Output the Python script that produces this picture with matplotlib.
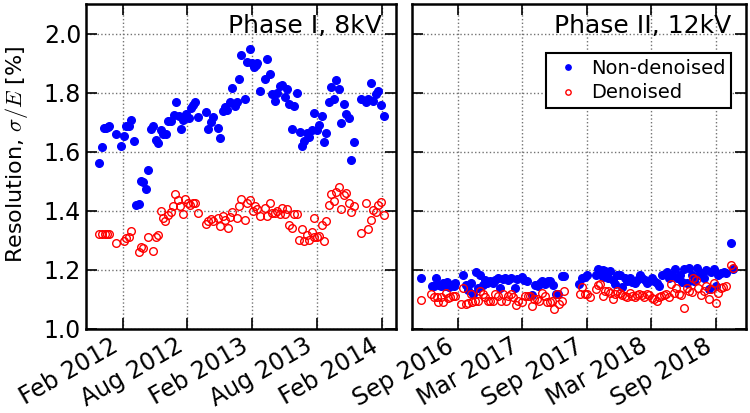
import matplotlib
matplotlib.use("Agg")
import matplotlib.pyplot as plt
import matplotlib.dates as mdates
import matplotlib.ticker as mticker
import pandas as pd

# Phase I (8kV): days since 2012-02-01, resolution in %
p1_start = "2012-02-01"
p1_blue_days = [-66, -59, -52, -47, -42, -37, -18, -4, 4, 9, 18, 24, 32, 39, 45, 52, 58, 66, 72,
                81, 87, 94, 99, 108, 114, 122, 129, 136, 144, 150, 158, 164, 171, 178, 186, 192,
                199, 205, 213, 234, 240, 248, 254, 268, 275, 282, 289, 295, 303, 309, 318, 324,
                329, 334, 345, 351, 359, 365, 372, 375, 378, 387, 401, 407, 415, 421, 429, 435,
                443, 450, 457, 464, 470, 478, 484, 491, 499, 506, 512, 520, 526, 533, 540, 547,
                555, 561, 568, 575, 582, 589, 596, 603, 610, 617, 624, 631, 638, 645, 652, 673,
                686, 693, 700, 707, 714, 720, 728, 736]
p1_blue = [1.561, 1.615, 1.680, 1.680, 1.683, 1.687, 1.659, 1.620, 1.652, 1.688, 1.686, 1.706,
           1.635, 1.419, 1.424, 1.501, 1.496, 1.474, 1.538, 1.677, 1.687, 1.641, 1.630, 1.675,
           1.659, 1.659, 1.705, 1.705, 1.725, 1.770, 1.722, 1.678, 1.708, 1.729, 1.714, 1.748,
           1.758, 1.767, 1.719, 1.733, 1.676, 1.699, 1.719, 1.682, 1.645, 1.739, 1.750, 1.742,
           1.770, 1.817, 1.755, 1.770, 1.845, 1.928, 1.780, 1.905, 1.947, 1.899, 1.886, 1.893,
           1.899, 1.804, 1.847, 1.913, 1.862, 1.795, 1.773, 1.799, 1.824, 1.827, 1.786, 1.812,
           1.763, 1.678, 1.754, 1.798, 1.666, 1.621, 1.637, 1.664, 1.649, 1.672, 1.730, 1.672,
           1.691, 1.722, 1.634, 1.664, 1.770, 1.818, 1.778, 1.843, 1.811, 1.698, 1.763, 1.727,
           1.714, 1.571, 1.632, 1.779, 1.767, 1.777, 1.832, 1.772, 1.797, 1.805, 1.757, 1.722]
p1_red_days = [-67, -57, -50, -43, -38, -18, 3, 9, 17, 24, 46, 53, 59, 72, 87, 94, 101, 108, 114,
               121, 129, 136, 143, 149, 157, 163, 171, 177, 185, 191, 199, 205, 213, 234, 240,
               248, 254, 268, 275, 282, 289, 296, 303, 309, 324, 329, 334, 345, 351, 359, 367,
               374, 379, 387, 401, 408, 415, 422, 429, 435, 443, 450, 457, 464, 470, 478, 484,
               491, 498, 506, 512, 520, 526, 533, 540, 540, 547, 555, 561, 568, 575, 582, 589,
               596, 603, 610, 617, 624, 631, 638, 645, 652, 673, 686, 693, 700, 707, 714, 720,
               728, 736]
p1_red = [1.321, 1.321, 1.321, 1.321, 1.321, 1.292, 1.299, 1.309, 1.313, 1.333, 1.262, 1.279,
          1.274, 1.312, 1.264, 1.312, 1.319, 1.400, 1.376, 1.364, 1.385, 1.395, 1.416, 1.456,
          1.437, 1.416, 1.390, 1.440, 1.425, 1.419, 1.428, 1.425, 1.394, 1.356, 1.366, 1.373,
          1.366, 1.375, 1.349, 1.382, 1.370, 1.343, 1.378, 1.395, 1.374, 1.417, 1.439, 1.368,
          1.428, 1.437, 1.399, 1.416, 1.405, 1.382, 1.409, 1.384, 1.425, 1.394, 1.394, 1.399,
          1.389, 1.409, 1.389, 1.405, 1.353, 1.342, 1.390, 1.390, 1.301, 1.340, 1.297, 1.319,
          1.301, 1.329, 1.313, 1.375, 1.310, 1.315, 1.353, 1.297, 1.364, 1.420, 1.458, 1.432,
          1.463, 1.482, 1.405, 1.454, 1.462, 1.428, 1.396, 1.416, 1.326, 1.426, 1.340, 1.368,
          1.402, 1.396, 1.419, 1.431, 1.386]

# Phase II (12kV): days since 2016-09-01
p2_start = "2016-09-01"
p2_blue_days = [-105, -75, -69, -63, -55, -48, -42, -37, -31, -25, -20, -12, -8, 14, 21, 27, 35,
                42, 50, 57, 63, 71, 77, 82, 91, 98, 104, 112, 119, 127, 134, 142, 149, 160, 166,
                180, 187, 195, 209, 218, 225, 232, 238, 246, 253, 261, 268, 276, 282, 294, 301,
                342, 351, 358, 366, 389, 396, 403, 409, 410, 417, 423, 424, 431, 438, 444, 451,
                458, 465, 471, 479, 486, 492, 500, 506, 514, 520, 528, 534, 541, 548, 554, 562,
                568, 577, 590, 598, 605, 613, 619, 627, 633, 640, 647, 654, 661, 667, 675, 681,
                688, 695, 702, 709, 716, 723, 730, 737, 745, 752, 758, 773, 779]
p2_blue = [1.173, 1.144, 1.144, 1.173, 1.150, 1.144, 1.156, 1.144, 1.158, 1.141, 1.150, 1.144,
           1.156, 1.184, 1.149, 1.133, 1.155, 1.117, 1.193, 1.139, 1.184, 1.150, 1.167, 1.156,
           1.162, 1.155, 1.166, 1.172, 1.139, 1.169, 1.173, 1.167, 1.173, 1.139, 1.170, 1.175,
           1.167, 1.164, 1.115, 1.148, 1.144, 1.156, 1.162, 1.153, 1.162, 1.162, 1.150, 1.117,
           1.119, 1.179, 1.181, 1.153, 1.173, 1.177, 1.184, 1.182, 1.204, 1.195, 1.175, 1.198,
           1.195, 1.173, 1.193, 1.195, 1.167, 1.153, 1.184, 1.184, 1.141, 1.171, 1.164, 1.173,
           1.159, 1.156, 1.167, 1.182, 1.173, 1.167, 1.156, 1.162, 1.173, 1.162, 1.155, 1.144,
           1.182, 1.193, 1.171, 1.182, 1.202, 1.173, 1.182, 1.159, 1.202, 1.157, 1.207, 1.184,
           1.162, 1.208, 1.184, 1.188, 1.171, 1.198, 1.137, 1.192, 1.204, 1.144, 1.184, 1.188,
           1.193, 1.188, 1.291, 1.204]
p2_red_days = [-105, -76, -69, -61, -56, -48, -42, -35, -28, -22, -14, -8, 7, 14, 21, 27, 35, 40,
               48, 57, 63, 71, 77, 84, 91, 98, 105, 112, 120, 127, 135, 142, 150, 155, 163, 169,
               182, 189, 197, 202, 210, 216, 223, 230, 238, 246, 251, 259, 266, 272, 280, 286,
               294, 300, 344, 351, 358, 366, 374, 389, 396, 403, 410, 417, 424, 431, 438, 443,
               451, 458, 465, 471, 479, 486, 492, 500, 506, 513, 520, 527, 534, 541, 548, 554,
               562, 568, 575, 583, 589, 597, 603, 611, 618, 626, 632, 639, 647, 653, 661, 666,
               673, 680, 688, 696, 702, 709, 715, 723, 730, 737, 744, 751, 759, 773, 779]
p2_red = [1.099, 1.117, 1.108, 1.108, 1.092, 1.108, 1.092, 1.122, 1.105, 1.108, 1.111, 1.113,
          1.085, 1.139, 1.085, 1.087, 1.119, 1.092, 1.094, 1.094, 1.130, 1.117, 1.108, 1.096,
          1.096, 1.096, 1.120, 1.111, 1.096, 1.120, 1.096, 1.113, 1.120, 1.108, 1.080, 1.094,
          1.092, 1.113, 1.113, 1.112, 1.078, 1.100, 1.102, 1.094, 1.122, 1.111, 1.092, 1.092,
          1.096, 1.068, 1.117, 1.083, 1.096, 1.127, 1.120, 1.141, 1.119, 1.117, 1.108, 1.137,
          1.150, 1.153, 1.113, 1.130, 1.128, 1.122, 1.103, 1.119, 1.130, 1.122, 1.114, 1.113,
          1.108, 1.122, 1.112, 1.108, 1.114, 1.117, 1.114, 1.108, 1.119, 1.114, 1.105, 1.103,
          1.094, 1.108, 1.113, 1.115, 1.119, 1.108, 1.153, 1.122, 1.139, 1.117, 1.114, 1.071,
          1.139, 1.130, 1.126, 1.173, 1.167, 1.139, 1.114, 1.130, 1.145, 1.103, 1.137, 1.156,
          1.087, 1.122, 1.139, 1.141, 1.147, 1.218, 1.207]


def to_dates(start, days):
    return pd.Timestamp(start) + pd.to_timedelta(days, unit="D")


plt.rcParams["mathtext.fontset"] = "cm"
plt.rcParams["font.family"] = "DejaVu Sans"

fig = plt.figure(figsize=(7.5, 4.13), dpi=100)
ax1 = fig.add_axes([0.1147, 0.2034, 0.4133, 0.7869])
ax2 = fig.add_axes([0.5487, 0.2034, 0.4460, 0.7869])

panels = [
    (ax1, p1_start, p1_blue_days, p1_blue, p1_red_days, p1_red, "Phase I, 8kV",
     ("2011-10-21", "2014-03-13"), (2, 8)),
    (ax2, p2_start, p2_blue_days, p2_blue, p2_red_days, p2_red, "Phase II, 12kV",
     ("2016-04-22", "2018-11-25"), (3, 9)),
]

for ax, start, bd, bv, rd, rv, title, xlim, months in panels:
    ax.plot(to_dates(start, bd), bv, "o", color="blue", mec="blue", ms=5.5,
            label="Non-denoised")
    ax.plot(to_dates(start, rd), rv, "o", mfc="none", mec="red", ms=5.5, mew=1.0,
            label="Denoised")
    ax.set_xlim(pd.Timestamp(xlim[0]), pd.Timestamp(xlim[1]))
    ax.set_ylim(1.0, 2.1)
    ax.set_yticks([1.0, 1.2, 1.4, 1.6, 1.8, 2.0])
    ax.xaxis.set_major_locator(mdates.MonthLocator(bymonth=months))
    ax.xaxis.set_major_formatter(mdates.DateFormatter("%b %Y"))
    ax.xaxis.set_minor_locator(mticker.NullLocator())
    ax.yaxis.set_minor_locator(mticker.NullLocator())
    ax.grid(True, color="0.45", linestyle=":", linewidth=1.0)
    ax.tick_params(direction="in", length=8, width=1.2, top=True, right=True,
                   labelsize=17)
    for lbl in ax.get_xticklabels():
        lbl.set_rotation(30)
        lbl.set_ha("right")
    for sp in ax.spines.values():
        sp.set_linewidth(1.8)
    ax.text(0.955, 0.97, title, transform=ax.transAxes, ha="right", va="top",
            fontsize=18)

ax1.set_ylabel(r"Resolution, $\sigma/E$ [%]", fontsize=16)
ax1.yaxis.set_label_coords(-0.18, 0.538)
ax2.tick_params(labelleft=False)

leg = ax2.legend(loc="upper right", bbox_to_anchor=(0.985, 0.88), numpoints=1,
                 markerscale=0.7, fontsize=14, fancybox=False, framealpha=1,
                 borderpad=0.3, labelspacing=0.3, handletextpad=0.4,
                 handlelength=1.6)
leg.get_frame().set_edgecolor("black")
leg.get_frame().set_linewidth(1.5)

fig.savefig("out.png", dpi=100)
